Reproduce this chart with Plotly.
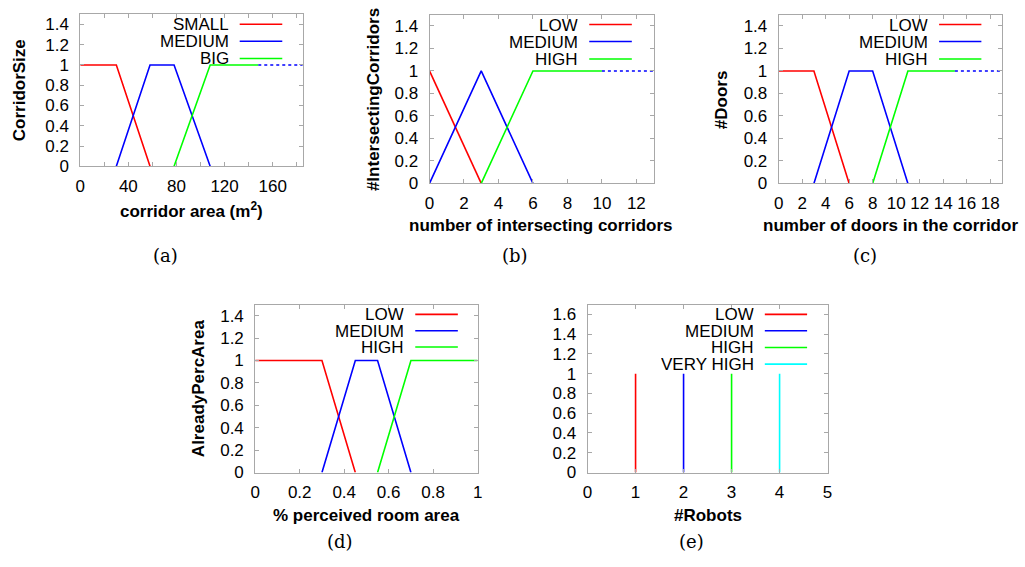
import plotly.graph_objects as go

W, H = 1025, 567

# ---------------- data ----------------
# (a) corridor size
a_small_x = [0, 30, 58]
a_small_y = [1, 1, 0]
a_medium_x = [30, 58, 78, 108]
a_medium_y = [0, 1, 1, 0]
a_big_x = [78, 108, 148]
a_big_y = [0, 1, 1]
a_tail_x = [148, 185]
a_tail_y = [1, 1]

# (b) intersecting corridors
b_low_x = [0, 3]
b_low_y = [1, 0]
b_medium_x = [0, 3, 6]
b_medium_y = [0, 1, 0]
b_high_x = [3, 6, 10]
b_high_y = [0, 1, 1]
b_tail_x = [10, 13]
b_tail_y = [1, 1]

# (c) doors
c_low_x = [0, 3, 6]
c_low_y = [1, 1, 0]
c_medium_x = [3, 6, 8, 11]
c_medium_y = [0, 1, 1, 0]
c_high_x = [8, 11, 15]
c_high_y = [0, 1, 1]
c_tail_x = [15, 19]
c_tail_y = [1, 1]

# (d) perceived area
d_low_x = [0, 0.3, 0.45]
d_low_y = [1, 1, 0]
d_medium_x = [0.3, 0.45, 0.55, 0.7]
d_medium_y = [0, 1, 1, 0]
d_high_x = [0.55, 0.7, 1.0]
d_high_y = [0, 1, 1]

# (e) robots (singletons)
e_names = ["LOW", "MEDIUM", "HIGH", "VERY HIGH"]
e_pos = [1, 2, 3, 4]
e_height = [1, 1, 1, 1]

names3a = ["SMALL", "MEDIUM", "BIG"]
names3 = ["LOW", "MEDIUM", "HIGH"]

RED, BLUE, GREEN, CYAN = "#ff0000", "#0000ff", "#00ff00", "#00ffff"
COLS = [RED, BLUE, GREEN, CYAN]

# ---------------- layout helpers ----------------
def px_x(p):
    return p / W

def px_y(p):
    return 1 - p / H

panels = {
    "a": dict(box=(76, 300.7, 14.5, 169.3), xr=[0, 185], yr=[0, 1.5], dx=40, minor=20),
    "b": dict(box=(428.7, 655, 15, 186.7), xr=[0, 13], yr=[0, 1.5], dx=2, minor=None),
    "c": dict(box=(781.3, 1006.7, 15, 186.7), xr=[0, 19], yr=[0, 1.5], dx=2, minor=None),
    "d": dict(box=(252.7, 477.3, 310, 481), xr=[0, 1], yr=[0, 1.5], dx=0.2, minor=None),
    "e": dict(box=(588.3, 830.7, 310, 481), xr=[0, 5], yr=[0, 1.7], dx=1, minor=None),
}
order = ["a", "b", "c", "d", "e"]

SANS = "Liberation Sans, Arial, sans-serif"
FS = 17

fig = go.Figure()
layout = dict(
    width=W, height=H, margin=dict(l=0, r=0, t=0, b=0),
    paper_bgcolor="white", plot_bgcolor="white", showlegend=False,
    font=dict(family=SANS, size=FS, color="black"),
)
TICKFONT = dict(family=SANS, size=FS, color="black")
BORDER = "#a8a8a8"

for i, k in enumerate(order):
    p = panels[k]
    x0, x1, yt, yb = p["box"]
    n = "" if i == 0 else str(i + 1)
    xa = dict(
        domain=[px_x(x0), px_x(x1)], range=p["xr"], anchor="y" + n,
        showgrid=False, zeroline=False, showline=True, linecolor=BORDER, linewidth=1,
        mirror="ticks", ticks="inside", ticklen=4, tickcolor=BORDER,
        dtick=p["dx"], tick0=0, tickfont=TICKFONT, ticklabelstandoff=4,
        fixedrange=True,
    )
    if p["minor"]:
        xa["minor"] = dict(dtick=p["minor"], ticks="inside", ticklen=4, tickcolor=BORDER)
    ya = dict(
        domain=[px_y(yb), px_y(yt)], range=p["yr"], anchor="x" + n,
        showgrid=False, zeroline=False, showline=True, linecolor=BORDER, linewidth=1,
        mirror="ticks", ticks="inside", ticklen=4, tickcolor=BORDER,
        dtick=0.2, tick0=0, tickfont=TICKFONT, ticklabelstandoff=7,
        fixedrange=True,
    )
    layout["xaxis" + n] = xa
    layout["yaxis" + n] = ya

def add_line(xs, ys, color, idx, dash="solid"):
    n = "" if idx == 0 else str(idx + 1)
    fig.add_trace(go.Scatter(x=xs, y=ys, mode="lines",
                             line=dict(color=color, width=1.6, dash=dash),
                             xaxis="x" + n, yaxis="y" + n, hoverinfo="skip"))

# (a)
add_line(a_small_x, a_small_y, RED, 0)
add_line(a_medium_x, a_medium_y, BLUE, 0)
add_line(a_big_x, a_big_y, GREEN, 0)
add_line(a_tail_x, a_tail_y, BLUE, 0, dash="dot")
# (b)
add_line(b_low_x, b_low_y, RED, 1)
add_line(b_medium_x, b_medium_y, BLUE, 1)
add_line(b_high_x, b_high_y, GREEN, 1)
add_line(b_tail_x, b_tail_y, BLUE, 1, dash="dot")
# (c)
add_line(c_low_x, c_low_y, RED, 2)
add_line(c_medium_x, c_medium_y, BLUE, 2)
add_line(c_high_x, c_high_y, GREEN, 2)
add_line(c_tail_x, c_tail_y, BLUE, 2, dash="dot")
# (d)
add_line(d_low_x, d_low_y, RED, 3)
add_line(d_medium_x, d_medium_y, BLUE, 3)
add_line(d_high_x, d_high_y, GREEN, 3)
# (e)
for j, (pos, h) in enumerate(zip(e_pos, e_height)):
    add_line([pos, pos], [0, h], COLS[j], 4)

annotations = []
shapes = []

def legend(names, text_right, line_x0, line_x1, rows, cols):
    for nm, yy, c in zip(names, rows, cols):
        annotations.append(dict(
            x=px_x(text_right), y=px_y(yy), xref="paper", yref="paper",
            text=nm, showarrow=False, xanchor="right", yanchor="middle",
            height=16, valign="middle", borderpad=0,
            font=dict(family=SANS, size=FS, color="black"),
        ))
        shapes.append(dict(
            type="line", xref="paper", yref="paper",
            x0=px_x(line_x0), x1=px_x(line_x1), y0=px_y(yy), y1=px_y(yy),
            line=dict(color=c, width=1.6),
        ))

legend(names3a, 227, 237, 280, [24.7, 42, 59.5], COLS)
legend(names3, 579.5, 590, 633, [25, 42.3, 60], COLS)
legend(names3, 933, 943.3, 986, [25, 42.3, 60], COLS)
legend(names3, 403.5, 414.3, 457.3, [320, 336.7, 353.3], COLS)
legend(e_names, 757, 767.3, 810, [320, 336.7, 353.7, 370.7], COLS)

def text(t, x, y, rot=0, bold=True, size=FS, family=SANS):
    annotations.append(dict(
        x=px_x(x), y=px_y(y), xref="paper", yref="paper",
        text=("<b>%s</b>" % t) if bold else t, showarrow=False,
        xanchor="center", yanchor="middle", textangle=rot,
        font=dict(size=size, color="black", family=family),
    ))

# axis titles
text("corridor area (m<sup>2</sup>)", 188, 214)
text("CorridorSize", 15, 92, rot=-90)
text("number of intersecting corridors", 541, 230)
text("#IntersectingCorridors", 371.5, 101, rot=-90)
text("number of doors in the corridor", 894, 230)
text("#Doors", 723, 101, rot=-90)
text("% perceived room area", 365, 525)
text("AlreadyPercArea", 195, 395, rot=-90)
text("#Robots", 709.5, 525)

# captions
SERIF = "DejaVu Serif, Liberation Serif, serif"
CS = 18
text("(a)", 161.7, 260, bold=False, size=CS, family=SERIF)
text("(b)", 515, 260, bold=False, size=CS, family=SERIF)
text("(c)", 868, 260.5, bold=False, size=CS, family=SERIF)
text("(d)", 338.3, 551.5, bold=False, size=CS, family=SERIF)
text("(e)", 693.3, 551.5, bold=False, size=CS, family=SERIF)

layout["annotations"] = annotations
layout["shapes"] = shapes
fig.update_layout(**layout)
fig.write_html(
    "out.html",
    config={"displayModeBar": False, "staticPlot": True},
    post_script="document.body.style.margin='0';document.body.style.padding='0';"
                "document.documentElement.style.overflow='hidden';",
)
